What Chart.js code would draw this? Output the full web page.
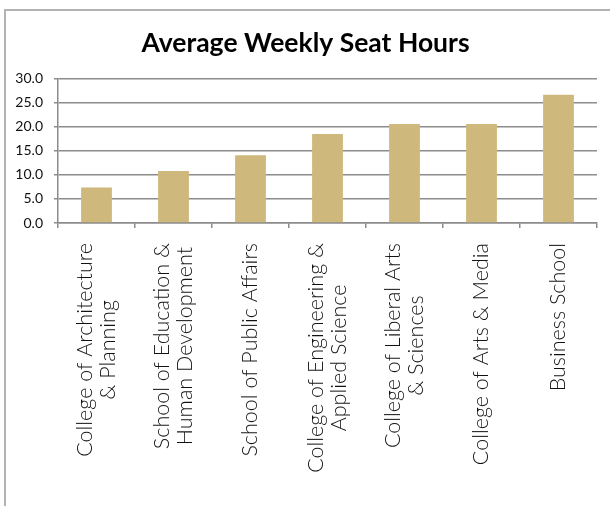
<!DOCTYPE html>
<html>
<head>
<meta charset="utf-8">
<style>
  html, body { margin: 0; padding: 0; background: #fff; }
  #wrap { position: relative; width: 610px; height: 506px; overflow: hidden; }
  #frame { position: absolute; left: 4px; top: 9px; width: 700px; height: 600px;
           border-left: 2px solid #b3b3b3; border-top: 2px solid #b3b3b3; }
  #seatChart { position: absolute; left: 0; top: 0; }
</style>
</head>
<body>
<div id="wrap">
  <div id="frame"></div>
  <canvas id="seatChart" width="610" height="506"></canvas>
</div>

<script src="https://cdn.jsdelivr.net/npm/chart.js"></script>
<script>
  // 단과대학별 주간 평균 좌석 사용 시간
  const colleges = [
    ['College of Architecture', '& Planning'],
    ['School of Education &', 'Human Development'],
    ['School of Public Affairs'],
    ['College of Engineering &', 'Applied Science'],
    ['College of Liberal Arts', '& Sciences'],
    ['College of Arts & Media'],
    ['Business School']
  ];
  const seatHours = [7.4, 10.8, 14.1, 18.5, 20.6, 20.6, 26.7];
  const yTicks = [0, 5, 10, 15, 20, 25, 30];

  const FONT = 'Lato, "Open Sans", sans-serif';

  // 세로로 돌린 x축 라벨 (줄마다 가운데 정렬)
  const rotatedLabels = {
    id: 'rotatedLabels',
    afterDraw(chart) {
      const x = chart.scales.x;
      const ctx = chart.ctx;
      ctx.save();
      ctx.font = '300 21.5px ' + FONT;
      ctx.fillStyle = '#111';
      ctx.textAlign = 'center';
      ctx.textBaseline = 'middle';
      const lineH = 23.5;
      colleges.forEach((lines, i) => {
        const px = x.getPixelForTick(i);
        const w = Math.max(...lines.map(l => ctx.measureText(l).width));
        const top = x.top + 20;
        ctx.save();
        ctx.translate(px, top + w / 2);
        ctx.rotate(-Math.PI / 2);
        lines.forEach((l, j) => {
          ctx.fillText(l, 0, (j - (lines.length - 1) / 2) * lineH);
        });
        ctx.restore();
      });
      ctx.restore();
    }
  };

  const ctx = document.getElementById('seatChart').getContext('2d');
  new Chart(ctx, {
    type: 'bar',
    data: {
      labels: colleges.map(c => c.join(' ')),
      datasets: [{
        data: seatHours,
        backgroundColor: '#CFB87C',
        borderWidth: 0,
        barPercentage: 0.40,
        categoryPercentage: 1
      }]
    },
    options: {
      responsive: false,
      animation: false,
      layout: { padding: { left: 14, right: 13, top: 0, bottom: 0 } },
      plugins: {
        legend: { display: false },
        tooltip: { enabled: false },
        title: {
          display: true,
          text: 'Average Weekly Seat Hours',
          color: '#000',
          font: { family: FONT, size: 26.5, weight: 'bold' },
          padding: { top: 28, bottom: 19 }
        }
      },
      scales: {
        x: {
          afterFit(scale) { scale.height = 283; },
          ticks: { display: false },
          grid: {
            offset: true,
            drawOnChartArea: false,
            drawTicks: true,
            tickLength: 5,
            color: '#8c8c8c',
            lineWidth: 1.5
          },
          border: { color: '#8c8c8c', width: 1.5 }
        },
        y: {
          min: 0,
          max: 30,
          afterFit(scale) { scale.width = 44; },
          afterBuildTicks(scale) { scale.ticks = yTicks.map(v => ({ value: v })); },
          ticks: {
            padding: 11,
            color: '#111',
            font: { family: FONT, size: 14 },
            callback: v => v.toFixed(1)
          },
          grid: {
            color: '#8c8c8c',
            lineWidth: 1.5,
            tickLength: 4
          },
          border: { color: '#8c8c8c', width: 1.5 }
        }
      }
    },
    plugins: [rotatedLabels]
  });
</script>
</body>
</html>
